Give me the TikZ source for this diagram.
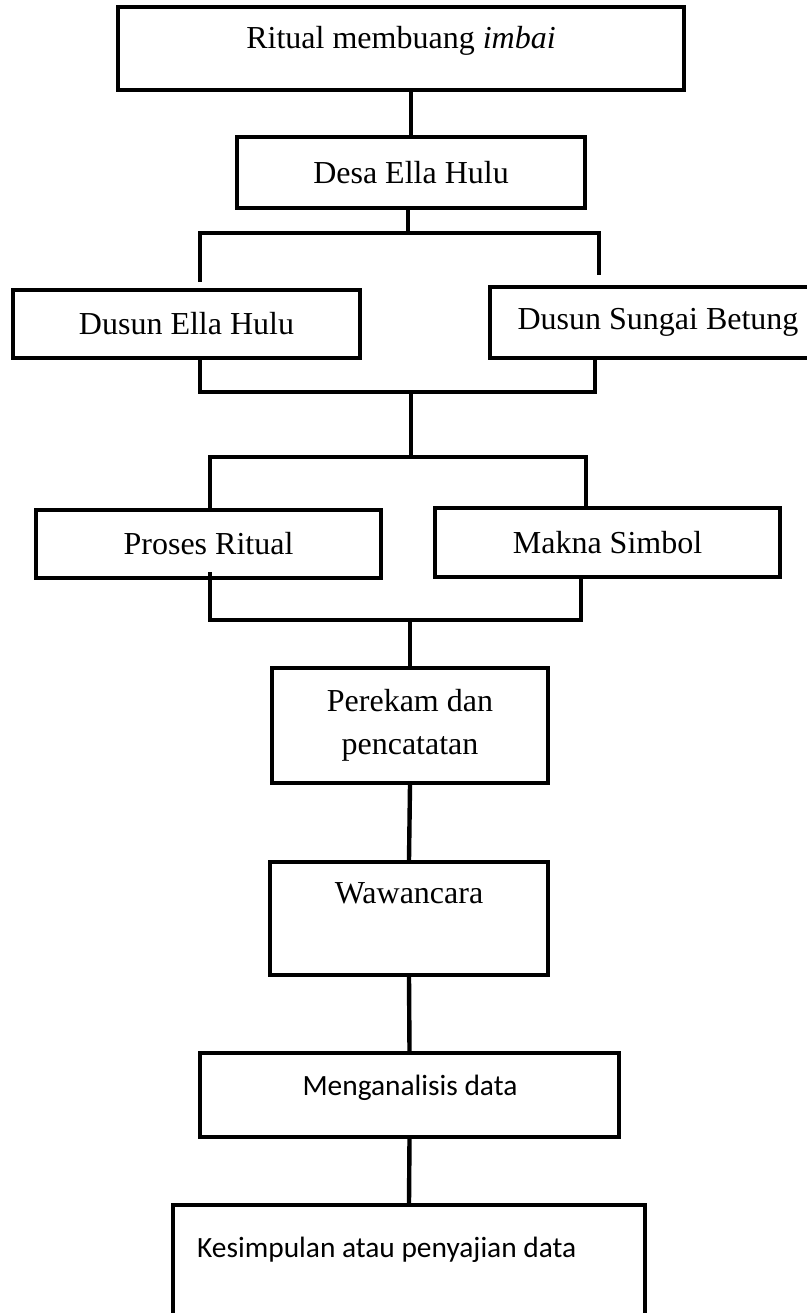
\documentclass[tikz,border=0pt]{standalone}
\usepackage{fontspec}
\setmainfont{Liberation Serif}
\newfontfamily\calibri{Carlito}
\tikzstyle{flow}=[x=1pt, y=-1pt, font=\fontsize{32}{43}\selectfont]
\tikzstyle{box}=[rectangle, draw, line width=4.4pt, inner sep=0pt, align=center]
\tikzstyle{txt}=[inner sep=0pt]
\tikzstyle{sans}=[font=\calibri\fontsize{29.4}{36}\selectfont]
\tikzstyle{link}=[-, line width=4.4pt]

\begin{document}
\begin{tikzpicture}[flow]
	\useasboundingbox (0,0) rectangle (806,1313);
	%%
	\draw (401,48.5) node[box, minimum width=566pt, minimum height=83pt] (ritual) {};
	\draw (401,40.5) node[txt] (ritualT) {Ritual membuang \textit{imbai}};
	%%
	\draw (411,172.5) node[box, minimum width=348pt, minimum height=71pt] (desa) {Desa Ella Hulu};
	%%
	\draw (186.5,324) node[box, minimum width=347pt, minimum height=68pt] (duselha) {Dusun Ella Hulu};
	\draw (658,322.5) node[box, minimum width=336pt, minimum height=71pt] (dussb) {Dusun Sungai Betung};
	%%
	\draw (208.5,544) node[box, minimum width=345pt, minimum height=68pt] (proses) {Proses Ritual};
	\draw (607.5,542.5) node[box, minimum width=345pt, minimum height=69pt] (makna) {Makna Simbol};
	%%
	\draw (410,725.5) node[box, minimum width=276pt, minimum height=115pt] (perekam) {Perekam dan\\pencatatan};
	%%
	\draw (409,918.5) node[box, minimum width=278pt, minimum height=113pt] (wawan) {};
	\draw (409,893) node[txt] (wawanT) {Wawancara};
	%%
	\draw (409.5,1095) node[box, minimum width=419pt, minimum height=84pt] (analisis) {};
	\draw (410,1088) node[txt, sans] (analisisT) {Menganalisis data};
	%%
	\draw (409,1270) node[box, minimum width=472pt, minimum height=130pt] (simpul) {};
	\draw (197,1250) node[txt, sans, anchor=west] (simpulT) {Kesimpulan atau penyajian data};
	%%%%%%
	\coordinate (b1) at (408,233);
	\coordinate (b1l) at (200,233);
	\coordinate (b1r) at (599,233);
	\coordinate (e1l) at (200,282);
	\coordinate (e1r) at (599,275);
	\coordinate (b2) at (411,392);
	\coordinate (b2l) at (200,392);
	\coordinate (b2r) at (595,392);
	\coordinate (b3) at (411,457);
	\coordinate (b3l) at (210,457);
	\coordinate (b3r) at (586,457);
	\coordinate (b4) at (410,620);
	\coordinate (b4l) at (210,620);
	\coordinate (b4r) at (581,620);
	\coordinate (e4l) at (210,572);
	%%
	\draw[link] (ritual.south -| desa) -- (desa.north);
	\draw[link] (desa.south -| b1) -- (b1);
	\draw[link] (e1l) -- (b1l) -- (b1r) -- (e1r);
	\draw[link] (b2l |- duselha.south) -- (b2l) -- (b2r) -- (b2r |- dussb.south);
	\draw[link] (b2) -- (b3);
	\draw[link] (b3l |- proses.north) -- (b3l) -- (b3r) -- (b3r |- makna.north);
	\draw[link] (e4l) -- (b4l) -- (b4r) -- (b4r |- makna.south);
	\draw[link] (b4) -- (b4 |- perekam.north);
	\draw[link] (perekam.south) -- (wawan.north);
	\draw[link] (wawan.south) -- (analisis.north);
	\draw[link] (analisis.south) -- (simpul.north);
\end{tikzpicture}
\end{document}
